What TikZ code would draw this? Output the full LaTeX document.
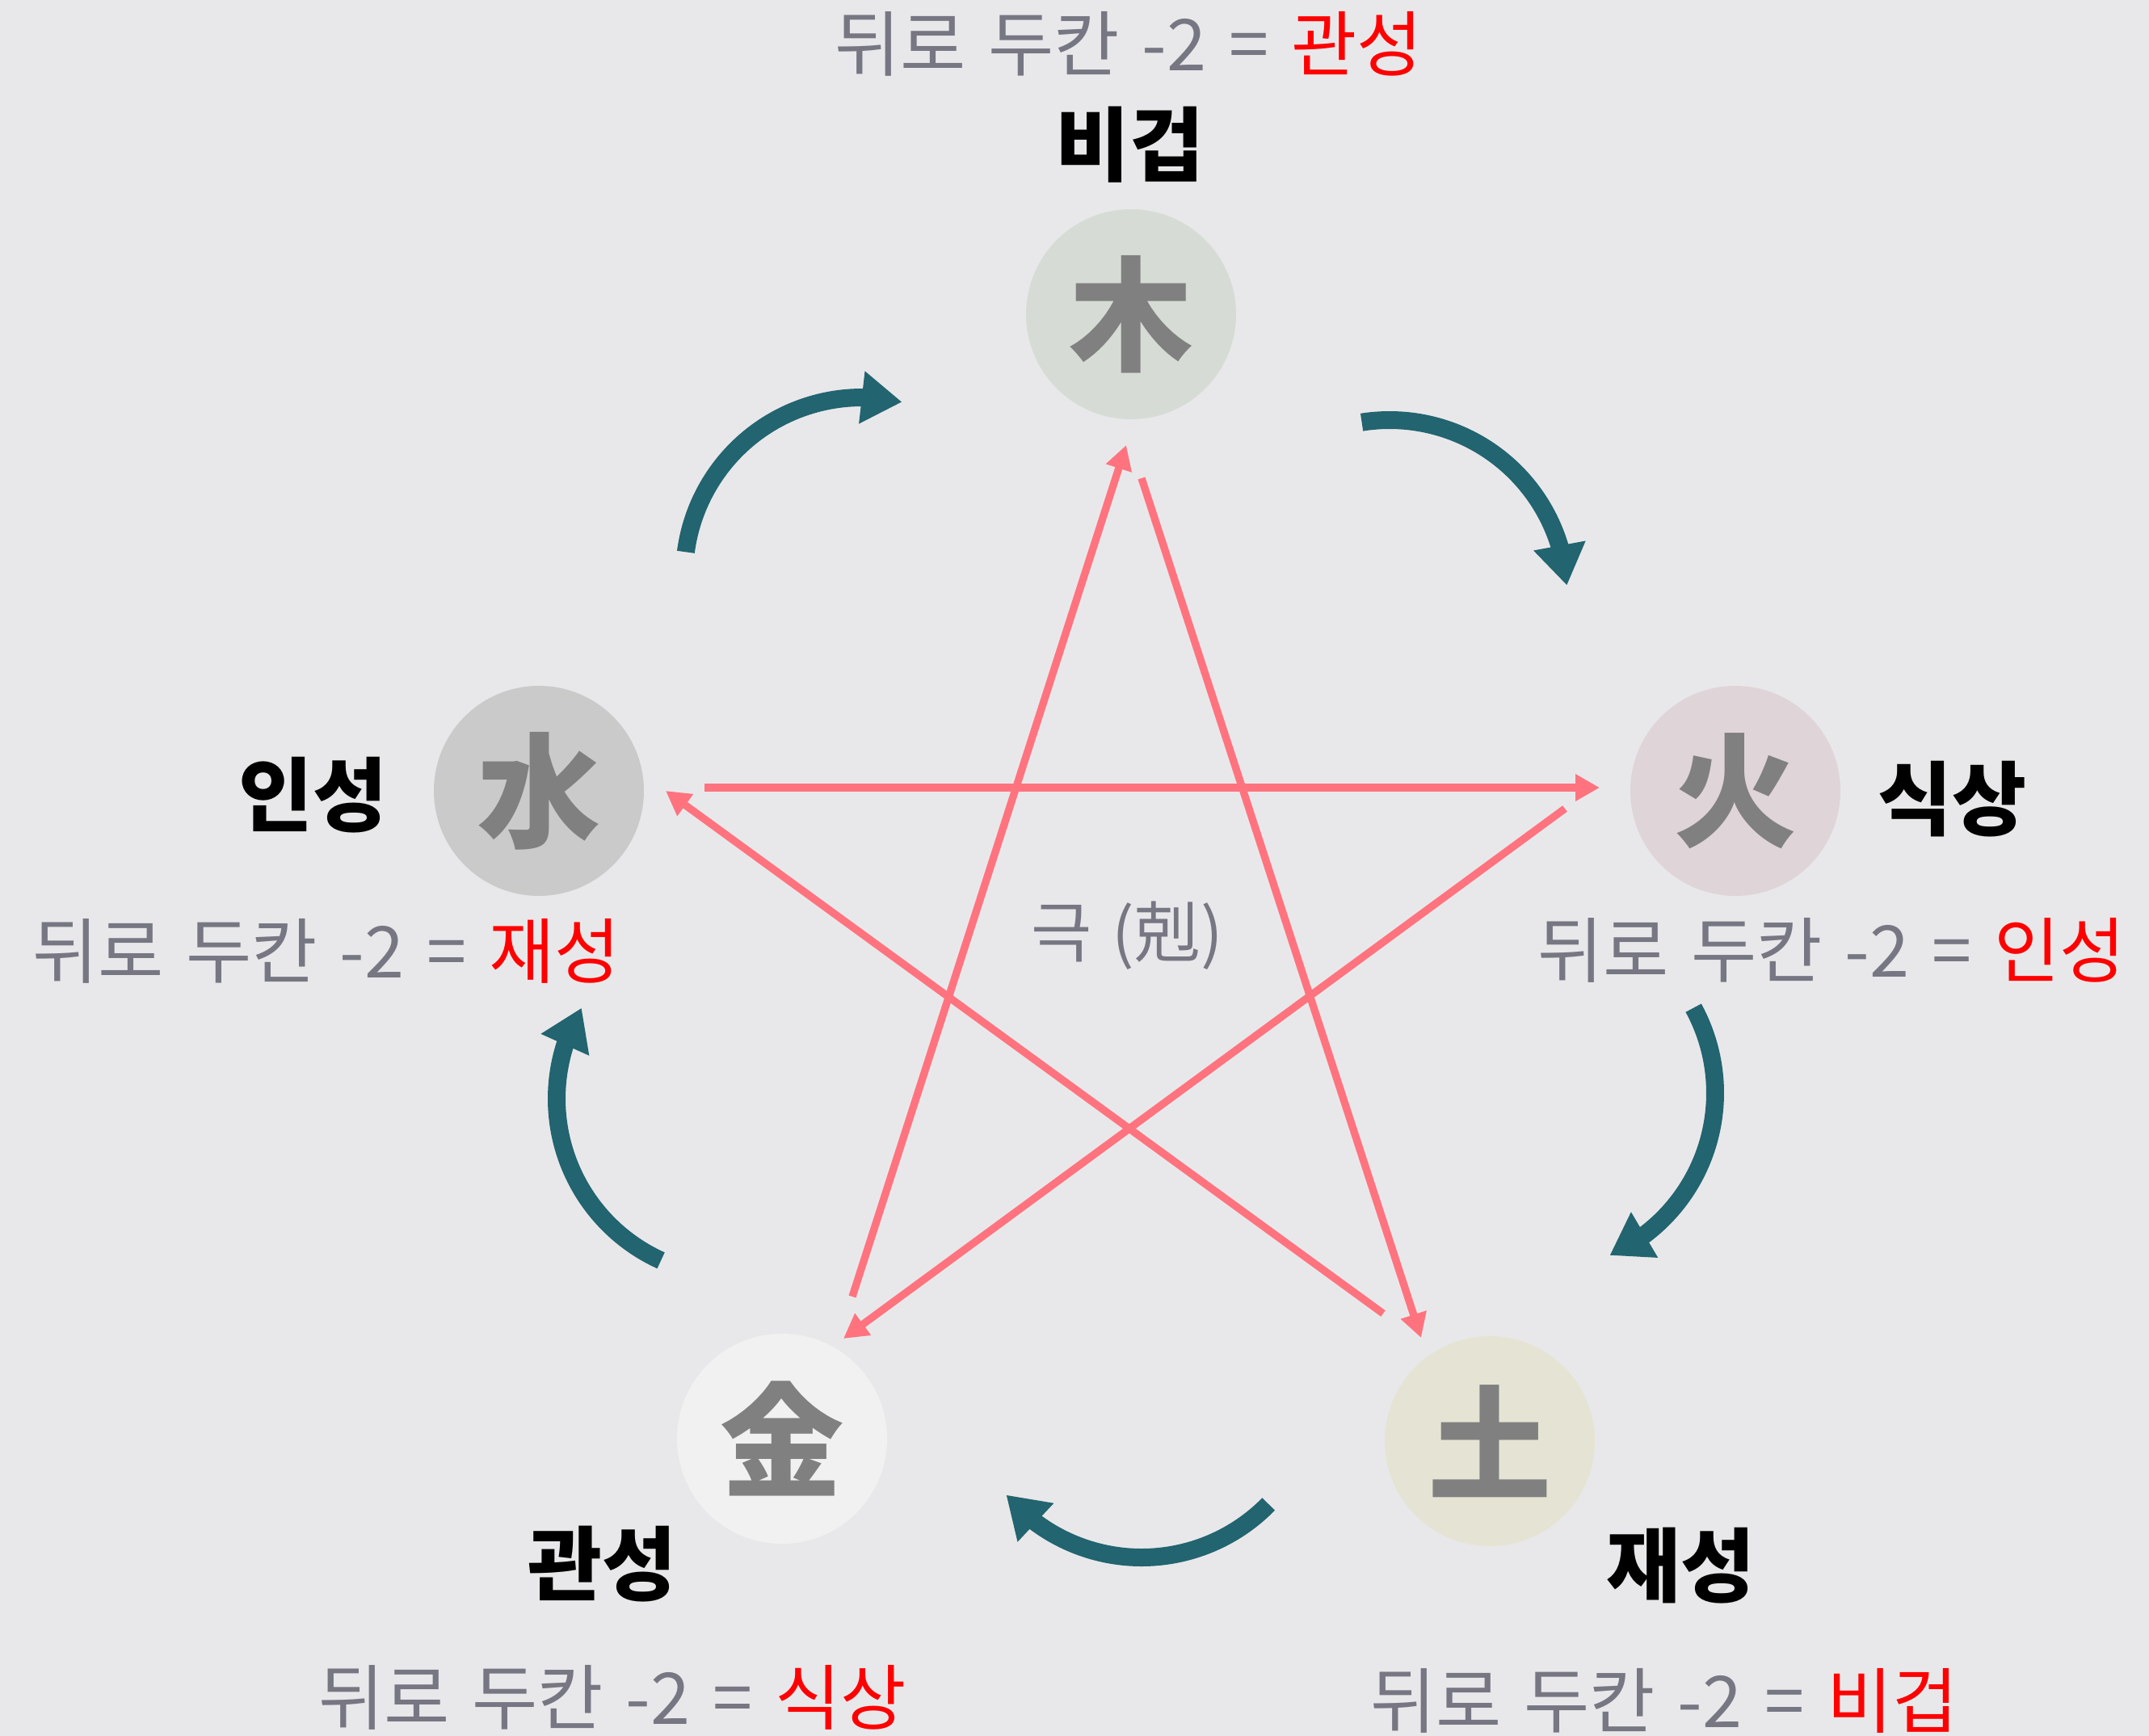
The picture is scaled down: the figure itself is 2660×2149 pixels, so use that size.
\documentclass[tikz,border=0pt]{standalone}
\usepackage{fontspec}
\newfontfamily\kr{Noto Sans CJK KR}
\newfontfamily\krw{Noto Sans CJK KR}[WordSpace=1.4]
\usetikzlibrary{arrows.meta,bending}
\definecolor{bg}{HTML}{E8E8EA}
\definecolor{woodc}{HTML}{D6DCD5}
\definecolor{firec}{HTML}{DFD4D7}
\definecolor{waterc}{HTML}{CACACB}
\definecolor{metalc}{HTML}{F1F1F2}
\definecolor{earthc}{HTML}{E5E4D4}
\definecolor{hanja}{HTML}{808080}
\definecolor{graytxt}{HTML}{777783}
\definecolor{kred}{HTML}{FF0000}
\definecolor{salmon}{HTML}{FF737F}
\definecolor{tealc}{HTML}{22646F}
\begin{document}
\begin{tikzpicture}[x=0.3pt,y=-0.3pt,
  elem/.style={circle, minimum size=78pt, inner sep=0pt,
    font=\kr\bfseries\fontsize{46}{52}\selectfont, text=hanja},
  lab/.style={font=\kr\bfseries\fontsize{30}{36}\selectfont, text=black, inner sep=0pt},
  rule/.style={font=\krw\fontsize{26.5}{32}\selectfont, text=graytxt, inner sep=0pt},
  mid/.style={font=\kr\fontsize{24.5}{30}\selectfont, text=graytxt, inner sep=0pt},
  kill/.style={draw=salmon, line width=2.8pt, -{Triangle[length=9pt,width=9.5pt]}},
  cyc/.style={draw=tealc, line width=6.6pt, -{Triangle[length=15pt,width=18.6pt]}}]
\fill[bg] (0,0) rectangle (2660,2149);
\useasboundingbox (0,0) rectangle (2660,2149);

% element circles
\node[elem, fill=woodc]  (wood)  at (1400,389)  {木};
\node[elem, fill=firec]  (fire)  at (2148,979)  {火};
\node[elem, fill=earthc] (earth) at (1844,1784) {土};
\node[elem, fill=metalc] (metal) at (968,1781)  {金};
\node[elem, fill=waterc] (water) at (667,979)   {水};

% labels
\node[lab] (lwood)  at (1398,179)  {비겁};
\node[lab] (lfire)  at (2416,989)  {식상};
\node[lab] (lwater) at (387,984)   {인성};
\node[lab] (lmetal) at (745,1936)  {관성};
\node[lab] (learth) at (2080,1938) {재성};

% rule texts
\node[rule] (rwood)  at (1397,54)   {뒤로 두칸 -2 = \textcolor{kred}{관성}};
\node[rule] (rfire)  at (2267,1176) {뒤로 두칸 -2 = \textcolor{kred}{인성}};
\node[rule] (rwater) at (404,1177)  {뒤로 두칸 -2 = \textcolor{kred}{재성}};
\node[rule] (rmetal) at (758,2101)  {뒤로 두칸 -2 = \textcolor{kred}{식상}};
\node[rule] (rearth) at (2060,2105) {뒤로 두칸 -2 = \textcolor{kred}{비겁}};
\node[mid]  (center) at (1395,1158) {극 (剋)};

% endpoints of the controlling arrows
\coordinate (m1) at (1055,1605); \coordinate (w1) at (1394,551);
\coordinate (w2) at (1413,592);  \coordinate (e2) at (1759,1656);
\coordinate (a3) at (872,975);   \coordinate (f3) at (1980,975);
\coordinate (f4) at (1937,1001); \coordinate (m4) at (1044,1657);
\coordinate (e5) at (1712,1626); \coordinate (a5) at (824,979);
\draw[kill] (m1) -- (w1);
\draw[kill] (w2) -- (e2);
\draw[kill] (a3) -- (f3);
\draw[kill] (f4) -- (m4);
\draw[kill] (e5) -- (a5);

% generating cycle arcs
\draw[cyc] (1067,712)  ++(187.5:220) arc[start angle=187.5, end angle=283, radius=220];
\draw[cyc] (1720,740)  ++(261:220)   arc[start angle=261, end angle=356, radius=220];
\draw[cyc] (1903,1353) ++(-28.6:220) arc[start angle=-28.6, end angle=66, radius=220];
\draw[cyc] (1413,1708) ++(44.4:220)  arc[start angle=44.4, end angle=139.6, radius=220];
\draw[cyc] (909,1360)  ++(114.4:220) arc[start angle=114.4, end angle=210.7, radius=220];
\end{tikzpicture}
\end{document}
